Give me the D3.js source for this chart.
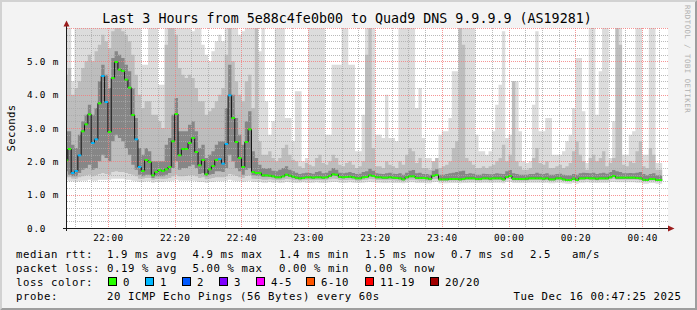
<!DOCTYPE html>
<html>
<head>
<meta charset="utf-8">
<script src="https://cdn.jsdelivr.net/npm/d3@7"></script>
<style>
  body { margin: 0; background: #f3f3f3; }
  text { font-family: "DejaVu Sans Mono", monospace; white-space: pre; }
</style>
</head>
<body>
<div id="chart"></div>
<script>
// ---- data (one value per minute, first sample 21:47) ----
var firstSample = "2025-12-15 21:47:00";

var median = [
  2.03,2.37,1.65,1.71,2.18,2.90,3.11,3.41,2.55,2.66,
  3.74,4.56,3.78,2.88,4.50,4.98,4.75,4.71,4.45,4.21,
  3.39,2.66,1.83,1.71,2.04,1.98,1.58,1.68,1.74,1.71,
  1.76,1.83,2.60,3.42,2.18,2.37,2.37,2.55,2.70,2.28,
  1.88,2.04,1.61,1.76,1.86,2.04,2.07,1.93,2.52,3.98,
  3.30,2.58,2.10,1.83,2.58,2.96,1.68,1.65,1.65,1.58,
  1.58,1.57,1.55,1.52,1.52,1.55,1.60,1.57,1.54,1.51,
  1.49,1.50,1.52,1.52,1.51,1.52,1.52,1.51,1.52,1.56,
  1.61,1.60,1.53,1.52,1.53,1.54,1.52,1.49,1.49,1.52,
  1.53,1.58,1.56,1.52,1.52,1.51,1.51,1.52,1.51,1.50,
  1.49,1.46,1.52,1.55,1.55,1.50,1.50,1.50,1.49,1.47,
  1.57,1.59,1.46,1.46,1.46,1.47,1.47,1.47,1.46,1.47,
  1.49,1.49,1.49,1.47,1.47,1.49,1.49,1.48,1.49,1.49,
  1.49,1.46,1.53,1.56,1.48,1.47,1.47,1.47,1.48,1.49,
  1.49,1.49,1.49,1.48,1.49,1.46,1.46,1.49,1.49,1.46,
  1.44,1.44,1.48,1.44,1.49,1.49,1.50,1.49,1.49,1.48,
  1.49,1.49,1.49,1.52,1.56,1.51,1.51,1.51,1.51,1.51,
  1.51,1.50,1.49,1.45,1.44,1.47,1.47,1.44,1.44
];

// lost pings out of 20
var loss = [
  0,0,1,1,1,0,0,0,1,1, 0,1,1,0,0,0,0,0,0,0, 0,1,1,0,0,0,0,0,0,0,
  0,0,0,0,0,0,0,0,0,0, 0,0,0,0,0,0,1,1,1,1, 0,0,0,0,0,0,0,0,0,0,
  0,0,0,0,0,0,0,0,0,0, 0,0,0,0,0,0,0,0,0,0, 0,0,0,0,0,0,0,0,0,0,
  0,0,0,0,0,0,0,0,0,0, 0,0,0,0,0,0,0,0,0,0, 0,0,0,0,0,0,0,0,0,0,
  0,0,0,0,0,0,0,0,0,0, 0,0,0,0,0,0,0,0,0,0, 0,0,0,0,0,0,0,0,0,0,
  0,0,0,0,0,0,0,0,0,0, 0,0,0,0,0,0,0,0,0,0, 0,0,0,0,0,0,0,0,0
];

// smoke: fastest / slowest ping
var smokeMin = [
  1.45,1.40,1.40,1.38,1.40,1.42,1.42,1.45,1.42,1.42,
  1.45,1.45,1.45,1.45,1.48,1.48,1.48,1.48,1.45,1.45,
  1.42,1.40,1.38,1.38,1.40,1.40,1.36,1.38,1.38,1.38,
  1.40,1.40,1.42,1.45,1.42,1.42,1.42,1.42,1.42,1.40,
  1.38,1.38,1.36,1.38,1.38,1.40,1.40,1.40,1.42,1.45,
  1.42,1.40,1.40,1.38,1.40,1.42,1.38,1.38,1.38,1.36,
  1.36,1.38,1.36,1.37,1.35,1.36,1.38,1.37,1.36,1.35,
  1.36,1.37,1.36,1.35,1.36,1.37,1.36,1.35,1.36,1.37,
  1.38,1.38,1.36,1.35,1.36,1.37,1.36,1.35,1.35,1.36,
  1.37,1.38,1.37,1.36,1.36,1.35,1.35,1.36,1.35,1.35,
  1.35,1.34,1.36,1.37,1.37,1.35,1.35,1.35,1.34,1.34,
  1.37,1.38,1.34,1.34,1.34,1.35,1.35,1.35,1.34,1.35,
  1.35,1.36,1.36,1.35,1.35,1.36,1.36,1.35,1.36,1.36,
  1.36,1.34,1.38,1.38,1.35,1.35,1.35,1.35,1.35,1.36,
  1.36,1.36,1.36,1.35,1.36,1.34,1.34,1.36,1.36,1.34,
  1.33,1.33,1.35,1.33,1.36,1.36,1.37,1.36,1.36,1.35,
  1.36,1.36,1.36,1.38,1.38,1.37,1.37,1.37,1.37,1.37,
  1.37,1.36,1.36,1.33,1.33,1.35,1.35,1.33,1.33
];
var smokeMax = [
  6.5,6.5,4.4,6.5,6.5,6.5,6.5,6.5,6.5,6.5,
  6.5,6.5,6.5,6.5,6.5,6.5,6.5,6.5,6.5,6.5,
  6.5,6.5,6.5,4.9,4.9,6.5,6.5,6.5,4.3,4.3,
  6.5,6.5,6.5,6.5,6.5,6.5,6.5,6.5,5.9,6.5,
  6.5,5.5,5.2,5.0,5.3,5.6,5.8,5.6,6.5,6.5,
  6.5,6.5,5.8,5.9,6.5,6.5,6.5,6.5,5.3,6.5,
  3.8,2.8,3.2,6.5,6.5,6.5,3.3,3.3,2.6,4.1,
  4.1,2.0,2.1,6.5,6.5,6.5,6.5,6.5,2.8,2.8,
  4.9,4.9,4.9,6.5,6.5,4.9,4.9,2.3,2.3,3.4,
  6.5,6.5,6.5,2.8,2.8,2.7,4.0,2.7,2.7,2.6,
  6.5,6.5,6.5,6.5,6.5,3.6,4.2,2.7,2.1,2.1,
  2.0,2.1,2.8,2.9,2.9,3.3,4.7,4.7,6.5,6.5,
  6.5,6.5,6.5,2.8,2.3,2.3,2.2,2.3,2.9,3.7,
  4.3,5.9,2.7,2.8,4.4,4.4,2.9,2.0,1.95,2.0,
  3.7,5.9,2.9,2.9,3.3,3.3,2.2,2.2,2.2,2.3,
  2.6,2.8,3.6,5.1,5.1,3.5,1.95,6.5,6.5,3.4,
  4.7,6.5,6.5,2.1,3.2,6.5,6.5,2.2,2.2,2.8,
  2.9,6.5,6.5,2.2,2.2,6.5,6.5,1.95,1.95
];

// smoke: middle band of pings
var bandLo = [
  1.52,1.52,1.48,1.48,1.52,1.55,1.58,1.60,1.55,1.58,
  1.62,1.65,1.62,1.60,1.68,1.70,1.68,1.68,1.65,1.62,
  1.60,1.55,1.48,1.48,1.50,1.50,1.45,1.47,1.48,1.47,
  1.48,1.50,1.55,1.60,1.55,1.55,1.56,1.58,1.58,1.55,
  1.50,1.52,1.46,1.48,1.50,1.52,1.52,1.52,1.55,1.62,
  1.60,1.56,1.52,1.50,1.56,1.58,1.48,1.47,1.47,1.45,
  1.45,1.46,1.45,1.44,1.43,1.45,1.47,1.46,1.44,1.43,
  1.42,1.43,1.44,1.44,1.43,1.44,1.44,1.43,1.44,1.46,
  1.48,1.47,1.44,1.44,1.44,1.45,1.44,1.42,1.42,1.44,
  1.45,1.47,1.46,1.44,1.44,1.43,1.43,1.44,1.43,1.42,
  1.42,1.40,1.43,1.45,1.45,1.43,1.42,1.42,1.42,1.41,
  1.46,1.47,1.41,1.41,1.41,1.42,1.42,1.42,1.41,1.42,
  1.43,1.43,1.43,1.42,1.42,1.43,1.43,1.42,1.43,1.43,
  1.43,1.41,1.46,1.47,1.42,1.42,1.42,1.42,1.42,1.43,
  1.43,1.43,1.43,1.42,1.43,1.41,1.41,1.43,1.43,1.41,
  1.40,1.40,1.42,1.40,1.43,1.43,1.44,1.43,1.43,1.42,
  1.43,1.43,1.43,1.46,1.47,1.45,1.45,1.45,1.45,1.45,
  1.45,1.44,1.43,1.40,1.40,1.42,1.42,1.40,1.40
];
var bandHi = [
  4.6,4.8,4.0,4.2,4.4,4.8,5.0,5.2,5.0,5.3,
  5.5,5.8,5.6,5.4,5.9,6.0,6.0,5.9,5.8,5.6,
  5.2,4.6,4.0,3.6,3.8,3.8,3.4,3.4,3.2,3.0,
  5.5,6.0,6.0,5.8,4.8,4.6,4.5,4.6,4.5,4.2,
  3.8,3.8,3.4,3.5,3.6,3.8,4.0,4.2,5.2,6.0,
  5.0,4.4,4.0,3.8,4.4,4.6,3.6,6.0,2.6,2.2,
  2.20,2.30,2.10,2.00,2.10,2.40,2.50,2.20,2.05,2.00,
  1.85,1.80,1.95,1.90,1.85,2.10,2.20,1.95,1.90,2.00,
  2.20,2.10,1.90,1.85,1.95,2.00,1.90,1.80,1.85,2.00,
  5.20,6.00,2.40,1.85,1.85,1.80,2.00,1.90,1.85,1.80,
  2.00,1.90,2.20,2.40,2.30,1.95,2.10,1.80,1.80,1.75,
  2.00,2.10,1.80,1.85,1.90,2.00,2.40,2.60,6.00,5.50,
  2.10,2.00,1.90,1.80,1.80,1.85,1.80,1.85,1.90,2.00,
  2.10,2.50,2.00,2.20,4.40,2.00,1.85,1.75,1.75,1.80,
  2.10,2.40,1.95,1.90,2.00,1.80,1.80,1.85,1.90,1.80,
  1.85,1.95,2.30,2.60,2.20,2.00,1.75,2.10,2.20,2.00,
  2.10,2.30,1.85,1.95,2.10,6.00,5.50,1.90,1.85,2.00,
  1.95,2.30,2.60,1.85,1.80,2.40,2.20,1.75,1.75
];

// smoke: core pings around the median
var coreLo = [
  1.70,1.60,1.55,1.55,1.65,1.75,1.80,1.90,1.75,1.80,
  2.00,2.20,2.10,2.00,2.60,2.80,2.70,2.60,2.40,2.20,
  1.90,1.75,1.60,1.55,1.60,1.60,1.50,1.55,1.55,1.55,
  1.60,1.65,1.80,2.00,1.75,1.80,1.80,1.85,1.90,1.80,
  1.62,1.65,1.55,1.60,1.62,1.70,1.70,1.68,1.80,2.20,
  2.00,1.80,1.70,1.60,1.75,1.80,1.58,1.57,1.57,1.53,
  1.54,1.54,1.52,1.49,1.49,1.52,1.56,1.54,1.51,1.48,
  1.46,1.47,1.49,1.49,1.48,1.49,1.49,1.48,1.49,1.53,
  1.57,1.56,1.50,1.49,1.50,1.51,1.49,1.46,1.46,1.49,
  1.50,1.55,1.53,1.49,1.49,1.48,1.48,1.49,1.48,1.47,
  1.46,1.43,1.49,1.52,1.52,1.47,1.47,1.47,1.46,1.44,
  1.54,1.56,1.43,1.43,1.43,1.44,1.44,1.44,1.43,1.44,
  1.46,1.46,1.46,1.44,1.44,1.46,1.46,1.45,1.46,1.46,
  1.46,1.43,1.50,1.53,1.45,1.44,1.44,1.44,1.45,1.46,
  1.46,1.46,1.46,1.45,1.46,1.43,1.43,1.46,1.46,1.43,
  1.41,1.41,1.45,1.41,1.46,1.46,1.47,1.46,1.46,1.45,
  1.46,1.46,1.46,1.49,1.53,1.48,1.48,1.48,1.48,1.48,
  1.48,1.47,1.46,1.42,1.41,1.44,1.44,1.41,1.41
];
var coreHi = [
  2.9,2.9,2.5,2.4,2.8,3.2,3.4,3.7,3.4,3.6,
  4.4,4.9,4.6,4.2,5.1,5.3,5.2,5.1,4.9,4.7,
  4.2,3.3,2.4,2.2,2.4,2.3,2.0,2.0,2.0,2.0,
  2.5,2.7,3.4,3.9,2.9,2.9,2.9,3.1,3.2,2.9,
  2.4,2.5,2.1,2.2,2.3,2.5,2.6,2.6,3.6,4.9,
  4.0,3.3,2.8,2.5,3.2,3.5,2.3,2.1,1.9,1.8,
  1.78,1.80,1.72,1.70,1.75,1.80,1.85,1.75,1.70,1.66,
  1.62,1.64,1.66,1.65,1.63,1.68,1.70,1.64,1.66,1.72,
  1.80,1.75,1.66,1.64,1.66,1.68,1.65,1.62,1.63,1.68,
  1.70,1.78,1.72,1.64,1.63,1.62,1.64,1.66,1.63,1.62,
  1.64,1.60,1.66,1.72,1.74,1.64,1.66,1.62,1.62,1.60,
  1.72,1.76,1.60,1.60,1.62,1.64,1.66,1.68,1.70,1.72,
  1.62,1.64,1.63,1.60,1.60,1.63,1.62,1.61,1.62,1.64,
  1.63,1.62,1.70,1.74,1.64,1.62,1.60,1.60,1.60,1.62,
  1.62,1.66,1.63,1.62,1.64,1.60,1.60,1.62,1.63,1.60,
  1.58,1.58,1.62,1.60,1.64,1.66,1.65,1.64,1.66,1.62,
  1.64,1.66,1.63,1.68,1.74,1.70,1.68,1.64,1.64,1.65,
  1.64,1.66,1.68,1.62,1.58,1.62,1.64,1.58,1.58
];

var xTickLabels = ["22:00","22:20","22:40","23:00","23:20","23:40","00:00","00:20","00:40"];
var yTickValues = [0, 1, 2, 3, 4, 5];
var yTickLabels = ["0.0", "1.0 m", "2.0 m", "3.0 m", "4.0 m", "5.0 m"];

var lossLabels = ["0", "1", "2", "3", "4-5", "6-10", "11-19", "20/20"];
var lossColors = ["#26ff00", "#00b8ff", "#0059ff", "#7e00ff", "#ff00ff", "#ff5500", "#ff0000", "#a10000"];
var rttStats = ["1.9 ms avg", "4.9 ms max", "1.4 ms min", "1.5 ms now", "0.7 ms sd", "2.5   am/s"];
var lossStats = ["0.19 % avg", "5.00 % max", "0.00 % min", "0.00 % now"];

var titleText = "Last 3 Hours from 5e88c4fe0b00 to Quad9 DNS 9.9.9.9 (AS19281)";
var probeText = "20 ICMP Echo Pings (56 Bytes) every 60s";
var stampText = "Tue Dec 16 00:47:25 2025";

// ---- layout ----
var W = 697, H = 310;
var plot = {left: 67, right: 668, top: 28, bottom: 228};
var parse = d3.timeParse("%Y-%m-%d %H:%M:%S");

var svg = d3.select("#chart")
  .append("svg")
    .attr("width", W)
    .attr("height", H);

// background with the rrdtool style bevel
svg.append("rect").attr("width", W).attr("height", H).attr("fill", "#f3f3f3");
svg.append("path").attr("d", "M0,0H697L695,2H2V308L0,310Z").attr("fill", "#d2d2d2");
svg.append("path").attr("d", "M697,0V310H0L2,308H695V2Z").attr("fill", "#9e9e9e");

var x = d3.scaleTime()
  .domain([parse("2025-12-15 21:47:45"), parse("2025-12-16 00:47:45")])
  .range([plot.left, plot.right]);

var y = d3.scaleLinear()
  .domain([0, 6])
  .range([plot.bottom, plot.top]);

var t0 = parse(firstSample);
var data = median.map(function (m, i) {
  return {
    t: d3.timeMinute.offset(t0, i), med: m, loss: loss[i],
    min: smokeMin[i], max: smokeMax[i],
    lo: bandLo[i], hi: bandHi[i],
    clo: coreLo[i], chi: coreHi[i]
  };
});
// extra point so the last step gets its full minute
var last = data[data.length - 1];
var steps = data.concat([Object.assign({}, last, {t: d3.timeMinute.offset(last.t, 1)})]);

function lossColor(n) {
  if (n <= 3) return lossColors[n];
  if (n <= 5) return lossColors[4];
  if (n <= 10) return lossColors[5];
  if (n <= 19) return lossColors[6];
  return lossColors[7];
}

svg.append("clipPath").attr("id", "clip")
  .append("rect")
    .attr("x", plot.left).attr("y", plot.top)
    .attr("width", plot.right - plot.left).attr("height", plot.bottom - plot.top);

// canvas
svg.append("rect")
  .attr("x", plot.left).attr("y", plot.top)
  .attr("width", plot.right - plot.left).attr("height", plot.bottom - plot.top)
  .attr("fill", "#ffffff");

var g = svg.append("g").attr("clip-path", "url(#clip)");

// smoke layers, outer to inner
function band(lo, hi, color) {
  var area = d3.area()
    .curve(d3.curveStepAfter)
    .x(function (d) { return x(d.t); })
    .y0(function (d) { return y(d[lo]); })
    .y1(function (d) { return y(d[hi]); });
  g.append("path").datum(steps).attr("d", area).attr("fill", color);
}
band("min", "max", "#dcdcdc");
band("lo", "hi", "#bdbdbd");
band("clo", "chi", "#868686");

// grid (dotted, over the smoke)
var grid = svg.append("g");
x.ticks(d3.timeMinute.every(5)).forEach(function (t) {
  var major = t.getMinutes() % 20 === 0;
  var px = Math.round(x(t)) + 0.5;
  grid.append("line")
    .attr("x1", px).attr("x2", px)
    .attr("y1", plot.top).attr("y2", plot.bottom)
    .attr("stroke", major ? "#f27a7a" : "#a9a9a9")
    .attr("stroke-opacity", 0.8)
    .attr("stroke-dasharray", "1,1");
});
y.ticks(30).forEach(function (v) {
  if (v === 0) return;
  var major = Math.abs(v - Math.round(v)) < 1e-6;
  var py = Math.round(y(v)) + 0.5;
  grid.append("line")
    .attr("x1", plot.left).attr("x2", plot.right)
    .attr("y1", py).attr("y2", py)
    .attr("stroke", major ? "#f27a7a" : "#a9a9a9")
    .attr("stroke-opacity", 0.8)
    .attr("stroke-dasharray", "1,1");
});

// median: black step line, then loss coloured segments
var med = svg.append("g").attr("clip-path", "url(#clip)");
var medLine = d3.line()
  .curve(d3.curveStepAfter)
  .x(function (d) { return x(d.t); })
  .y(function (d) { return y(d.med); });
med.append("path").datum(steps)
  .attr("d", medLine)
  .attr("fill", "none")
  .attr("stroke", "#111")
  .attr("stroke-width", 1);

med.selectAll("rect")
  .data(data)
  .enter()
  .append("rect")
    .attr("x", function (d) { return x(d.t); })
    .attr("width", function (d) { return x(d3.timeMinute.offset(d.t, 1)) - x(d.t); })
    .attr("y", function (d) { return y(d.med) - 1; })
    .attr("height", 2)
    .attr("fill", function (d) { return lossColor(d.loss); });

// axes lines + arrows
svg.append("line")
  .attr("x1", 63).attr("x2", 669).attr("y1", 228.5).attr("y2", 228.5)
  .attr("stroke", "#1a1a1a");
svg.append("line")
  .attr("x1", 66.5).attr("x2", 66.5).attr("y1", 231).attr("y2", 25)
  .attr("stroke", "#1a1a1a");
svg.append("path").attr("d", "M668,225.5L674.5,228.5L668,231.5Z").attr("fill", "#9b1c1c");
svg.append("path").attr("d", "M63.5,26.5L66.5,20.5L69.5,26.5Z").attr("fill", "#9b1c1c");

// x axis labels
var xTicks = xTickLabels.map(function (s, i) {
  return parse((i < 6 ? "2025-12-15 " : "2025-12-16 ") + s + ":00");
});
var xAxis = svg.append("g")
  .attr("transform", "translate(0," + plot.bottom + ")")
  .call(d3.axisBottom(x)
    .tickValues(xTicks)
    .tickFormat(function (d, i) { return xTickLabels[i]; })
    .tickSize(0));
xAxis.select(".domain").remove();
xAxis.selectAll("text")
  .attr("y", 13).attr("dy", null)
  .attr("fill", "#000")
  .attr("font-family", "DejaVu Sans Mono")
  .attr("font-size", "9.33px")
  .style("letter-spacing", "0.45px");

// y axis labels
var yAxis = svg.append("g")
  .attr("transform", "translate(" + plot.left + ",0)")
  .call(d3.axisLeft(y)
    .tickValues(yTickValues)
    .tickFormat(function (d, i) { return yTickLabels[i]; })
    .tickSize(0));
yAxis.select(".domain").remove();
yAxis.selectAll("text")
  .attr("x", 27 - plot.left).attr("dy", "0.35em")
  .attr("text-anchor", "start")
  .attr("fill", "#000")
  .attr("font-family", "DejaVu Sans Mono")
  .attr("font-size", "9.33px")
  .style("letter-spacing", "0.8px");

// title and axis label
svg.append("text")
  .attr("x", 347).attr("y", 23)
  .attr("text-anchor", "middle")
  .attr("font-size", "13.33px")
  .text(titleText);

svg.append("text")
  .attr("transform", "translate(15,128) rotate(-90)")
  .attr("text-anchor", "middle")
  .attr("font-size", "10.67px")
  .style("letter-spacing", "0.3px")
  .text("Seconds");

svg.append("text")
  .attr("transform", "translate(684.5,5) rotate(90)")
  .attr("font-size", "7.33px")
  .attr("fill", "#b0b0b0")
  .style("letter-spacing", "0.5px")
  .text("RRDTOOL / TOBI OETIKER");

// legend
var legend = svg.append("g")
  .attr("font-size", "10.67px");

function legendText(px, py, s) {
  legend.append("text")
    .attr("x", px).attr("y", py)
    .attr("xml:space", "preserve")
    .style("letter-spacing", "0.58px")
    .text(s);
}
var statX = [107, 192.5, 279, 365, 451, 530];

legendText(16, 258, "median rtt:");
rttStats.forEach(function (s, i) { legendText(statX[i], 258, s); });

legendText(16, 272, "packet loss:");
lossStats.forEach(function (s, i) { legendText(statX[i], 272, s); });

legendText(16, 285.5, "loss color:");
var boxX = [108.5, 145.5, 182.5, 219.5, 256.5, 306.5, 365.5, 430.5];
lossLabels.forEach(function (s, i) {
  legend.append("rect")
    .attr("x", boxX[i]).attr("y", 277.5)
    .attr("width", 8).attr("height", 8)
    .attr("fill", lossColors[i])
    .attr("stroke", "#000");
  legendText(boxX[i] + 14.5, 285.5, s);
});

legendText(16, 299.5, "probe:");
legendText(107, 299.5, probeText);
legendText(513.5, 299.5, stampText);
</script>
</body>
</html>
